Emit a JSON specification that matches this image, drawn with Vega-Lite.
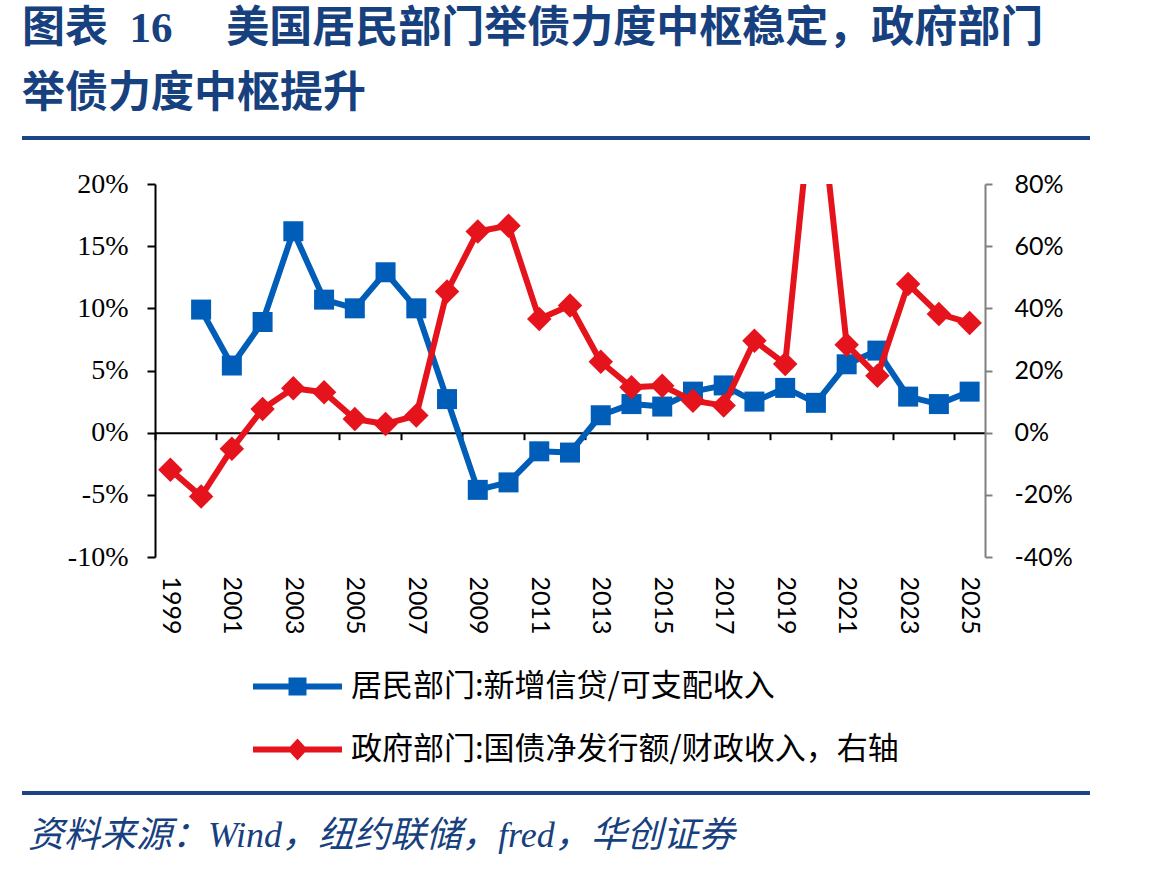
{
  "$schema": "https://vega.github.io/schema/vega-lite/v6.json",
  "background": "white",
  "padding": {"left": 22, "top": 8, "right": 0, "bottom": 0},
  "config": {
    "view": {"stroke": null},
    "axis": {"grid": false, "title": null}
  },
  "spacing": 30,
  "vconcat": [
    {
      "width": 1068,
      "height": 4,
      "data": {"values": [{}]},
      "title": {
        "text": ["图表\u200216\u3000 美国居民部门举债力度中枢稳定，政府部门", "举债力度中枢提升"],
        "anchor": "start",
        "frame": "group",
        "font": "'Liberation Serif', 'Noto Sans CJK SC'",
        "fontSize": 43,
        "fontWeight": "bold",
        "color": "#17407E",
        "lineHeight": 65,
        "offset": 20
      },
      "mark": {"type": "rect", "color": "#1B4585"},
      "encoding": {
        "x": {"datum": 0, "scale": {"domain": [0, 1]}, "axis": null},
        "x2": {"datum": 1},
        "y": {"datum": 0, "scale": {"domain": [0, 1]}, "axis": null},
        "y2": {"datum": 1}
      }
    },
    {
      "spacing": 156,
      "vconcat": [
        {
          "spacing": 0,
          "hconcat": [
            {
              "width": 1,
              "height": 1,
              "data": {"values": []},
              "mark": {"type": "rect", "opacity": 0},
              "encoding": {
                "x": {"datum": 0, "axis": null},
                "y": {"datum": 0, "axis": null}
              }
            },
            {
              "width": 830,
              "height": 373,
              "data": {
                "values": [
                  {"year": 1999, "household": null, "government": -11.9},
                  {"year": 2000, "household": 9.9, "government": -20.5},
                  {"year": 2001, "household": 5.4, "government": -5.2},
                  {"year": 2002, "household": 8.9, "government": 7.6},
                  {"year": 2003, "household": 16.2, "government": 14.3},
                  {"year": 2004, "household": 10.7, "government": 13.0},
                  {"year": 2005, "household": 10.0, "government": 4.4},
                  {"year": 2006, "household": 12.9, "government": 2.8},
                  {"year": 2007, "household": 10.0, "government": 5.5},
                  {"year": 2008, "household": 2.7, "government": 45.4},
                  {"year": 2009, "household": -4.6, "government": 64.7},
                  {"year": 2010, "household": -4.0, "government": 66.6},
                  {"year": 2011, "household": -1.5, "government": 36.6},
                  {"year": 2012, "household": -1.6, "government": 40.9},
                  {"year": 2013, "household": 1.4, "government": 22.8},
                  {"year": 2014, "household": 2.3, "government": 14.6},
                  {"year": 2015, "household": 2.1, "government": 15.1},
                  {"year": 2016, "household": 3.3, "government": 10.3},
                  {"year": 2017, "household": 3.8, "government": 8.7},
                  {"year": 2018, "household": 2.5, "government": 29.6},
                  {"year": 2019, "household": 3.6, "government": 22.1},
                  {"year": 2020, "household": 2.4, "government": 120.0},
                  {"year": 2021, "household": 5.5, "government": 28.3},
                  {"year": 2022, "household": 6.6, "government": 18.3},
                  {"year": 2023, "household": 2.9, "government": 47.8},
                  {"year": 2024, "household": 2.3, "government": 38.2},
                  {"year": 2025, "household": 3.3, "government": 35.3}
                ]
              },
              "layer": [
                {
                  "encoding": {
                    "x": {
                      "field": "year",
                      "type": "quantitative",
                      "scale": {"domain": [1998.5, 2025.5], "nice": false, "zero": false},
                      "axis": {
                        "orient": "bottom",
                        "values": [1999, 2001, 2003, 2005, 2007, 2009, 2011, 2013, 2015, 2017, 2019, 2021, 2023, 2025],
                        "format": "d",
                        "labelAngle": 90,
                        "labelPadding": 19,
                        "labelFont": "Lato",
                        "labelFontSize": 25,
                        "labelColor": "#000000",
                        "domain": false,
                        "ticks": false
                      }
                    },
                    "y": {
                      "field": "household",
                      "type": "quantitative",
                      "scale": {"domain": [-10, 20], "nice": false, "zero": false},
                      "axis": {
                        "orient": "left",
                        "values": [-10, -5, 0, 5, 10, 15, 20],
                        "labelExpr": "datum.value + '%'",
                        "labelFont": "Liberation Serif",
                        "labelFontSize": 28,
                        "labelColor": "#000000",
                        "labelPadding": 19,
                        "domainColor": "#000000",
                        "domainWidth": 2,
                        "tickColor": "#000000",
                        "tickWidth": 2,
                        "tickSize": 8,
                        "minExtent": 132
                      }
                    }
                  },
                  "layer": [
                    {
                      "mark": {"type": "line", "color": "#005EB8", "strokeWidth": 6, "strokeJoin": "round", "strokeCap": "round"}
                    },
                    {
                      "mark": {"type": "point", "shape": "square", "size": 400, "filled": true, "opacity": 1, "strokeWidth": 0},
                      "encoding": {
                        "color": {
                          "datum": "居民部门:新增信贷/可支配收入",
                          "scale": {
                            "domain": ["居民部门:新增信贷/可支配收入", "政府部门:国债净发行额/财政收入，右轴"],
                            "range": ["#005EB8", "#E5131C"]
                          },
                          "legend": {
                            "orient": "none",
                            "legendX": 260,
                            "legendY": 535,
                            "title": null,
                            "padding": 0,
                            "labelFont": "Noto Sans CJK SC",
                            "labelFontSize": 31,
                            "labelColor": "#000000",
                            "labelLimit": 1000,
                            "labelOffset": 38,
                            "rowPadding": 31,
                            "symbolSize": 400,
                            "symbolStrokeWidth": 0,
                            "symbolOpacity": 1,
                            "encode": {
                              "symbols": {
                                "update": {
                                  "shape": {"signal": "datum.value === '居民部门:新增信贷/可支配收入' ? 'M-4.45,-0.3H-0.9V-0.9H0.9V-0.3H4.45V0.3H0.9V0.9H-0.9V0.3H-4.45Z' : 'M-4.45,-0.3H-0.73L0,-1.1L0.73,-0.3H4.45V0.3H0.73L0,1.1L-0.73,0.3H-4.45Z'"},
                                  "fill": {"signal": "datum.value === '居民部门:新增信贷/可支配收入' ? '#005EB8' : '#E5131C'"},
                                  "strokeWidth": {"value": 0},
                                  "opacity": {"value": 1}
                                }
                              }
                            }
                          }
                        }
                      }
                    }
                  ]
                },
                {
                  "encoding": {
                    "x": {
                      "field": "year",
                      "type": "quantitative",
                      "scale": {"domain": [1998.5, 2025.5], "nice": false, "zero": false},
                      "axis": {
                        "orient": "bottom",
                        "values": [1998.5, 2000.5, 2002.5, 2004.5, 2006.5, 2008.5, 2010.5, 2012.5, 2014.5, 2016.5, 2018.5, 2020.5, 2022.5, 2024.5],
                        "labels": false,
                        "offset": -124.33,
                        "domainColor": "#000000",
                        "domainWidth": 2,
                        "tickColor": "#000000",
                        "tickWidth": 2,
                        "tickSize": 7
                      }
                    },
                    "y": {
                      "field": "government",
                      "type": "quantitative",
                      "scale": {"domain": [-40, 80], "nice": false, "zero": false},
                      "axis": {
                        "orient": "right",
                        "values": [-40, -20, 0, 20, 40, 60, 80],
                        "labelExpr": "datum.value + '%'",
                        "labelFont": "Lato",
                        "labelFontSize": 25,
                        "labelColor": "#000000",
                        "labelPadding": 22,
                        "domainColor": "#808080",
                        "domainWidth": 2,
                        "tickColor": "#808080",
                        "tickWidth": 2,
                        "tickSize": 7
                      }
                    }
                  },
                  "layer": [
                    {
                      "mark": {"type": "line", "color": "#E5131C", "strokeWidth": 6, "strokeJoin": "round", "strokeCap": "round", "clip": true}
                    },
                    {
                      "mark": {"type": "point", "shape": "diamond", "size": 600, "filled": true, "opacity": 1, "strokeWidth": 0, "clip": true},
                      "encoding": {
                        "color": {"datum": "政府部门:国债净发行额/财政收入，右轴"}
                      }
                    }
                  ]
                }
              ],
              "resolve": {"scale": {"y": "independent"}, "axis": {"x": "independent", "y": "independent"}}
            }
          ]
        },
        {
          "width": 1068,
          "height": 4,
          "data": {"values": [{}]},
          "title": {
            "text": "资料来源：Wind，纽约联储，fred，华创证券",
            "orient": "bottom",
            "anchor": "start",
            "frame": "group",
            "font": "'Liberation Serif', 'Noto Sans CJK SC'",
            "fontSize": 36,
            "fontStyle": "italic",
            "fontWeight": "normal",
            "color": "#17407E",
            "offset": 24,
            "dx": 6
          },
          "mark": {"type": "rect", "color": "#1B4585"},
          "encoding": {
            "x": {"datum": 0, "scale": {"domain": [0, 1]}, "axis": null},
            "x2": {"datum": 1},
            "y": {"datum": 0, "scale": {"domain": [0, 1]}, "axis": null},
            "y2": {"datum": 1}
          }
        }
      ]
    }
  ]
}
